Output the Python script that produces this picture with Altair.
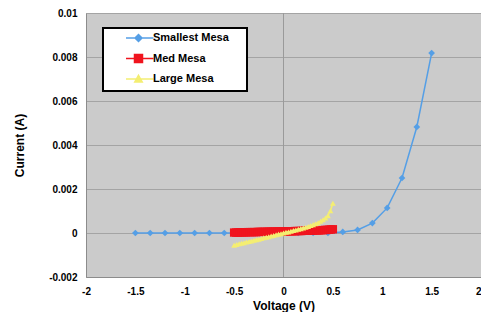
import altair as alt
import pandas as pd

# ---- data ----
small_v = [-1.5, -1.35, -1.2, -1.05, -0.9, -0.75, -0.6, -0.45, -0.3, -0.15, 0.0,
           0.15, 0.3, 0.45, 0.6, 0.75, 0.9, 1.05, 1.2, 1.35, 1.5]
small_i = [0, 0, 0, 0, 0, 0, 0, 0, 0, 0, 0,
           0, 0, 0, 0.00005, 0.00014, 0.00045, 0.00114, 0.0025, 0.00482, 0.00818]

med_v = [-0.5, -0.48, -0.46, -0.44, -0.42, -0.4, -0.38, -0.36, -0.34, -0.32, -0.3,
         -0.28, -0.26, -0.24, -0.22, -0.2, -0.18, -0.16, -0.14, -0.12, -0.1,
         -0.08, -0.06, -0.04, -0.02, 0.0, 0.02, 0.04, 0.06, 0.08, 0.1, 0.12,
         0.14, 0.16, 0.18, 0.2, 0.22, 0.24, 0.26, 0.28, 0.3, 0.32, 0.34, 0.36,
         0.38, 0.4, 0.42, 0.44, 0.46, 0.48, 0.5]
med_i = [0.00002, 0.00002, 0.00002, 0.00003, 0.00003, 0.00003, 0.00003,
         0.00004, 0.00004, 0.00004, 0.00004, 0.00004, 0.00005, 0.00005,
         0.00005, 0.00005, 0.00005, 0.00006, 0.00006, 0.00006, 0.00006,
         0.00006, 0.00007, 0.00007, 0.00007,
         0.00007, 0.00007, 0.00008, 0.00008, 0.00008, 0.00008, 0.00009,
         0.00009, 0.00009, 0.00009, 0.0001, 0.0001, 0.0001, 0.00011, 0.00011,
         0.00011, 0.00012, 0.00012, 0.00012, 0.00013, 0.00013, 0.00014,
         0.00014, 0.00015, 0.00016, 0.00017]

large_v = [-0.5, -0.475, -0.45, -0.425, -0.4, -0.375, -0.35, -0.325, -0.3, -0.275,
           -0.25, -0.225, -0.2, -0.175, -0.15, -0.125, -0.1, -0.075, -0.05, -0.025,
           0.0, 0.025, 0.05, 0.075, 0.1, 0.125, 0.15, 0.175, 0.2, 0.225, 0.25,
           0.275, 0.3, 0.325, 0.35, 0.375, 0.4, 0.425, 0.45, 0.475, 0.5]
large_i = [-0.00055, -0.00052, -0.00049, -0.00047, -0.00044, -0.00041, -0.00039,
           -0.00036, -0.00033, -0.0003, -0.00028, -0.00025, -0.00022, -0.00019,
           -0.00017, -0.00014, -0.00011, -0.00008, -0.00005, -0.00003,
           0.0, 0.00003, 0.00005, 0.00008, 0.00011, 0.00014, 0.00017, 0.0002,
           0.00023, 0.00026, 0.0003, 0.00034, 0.00038, 0.00042, 0.00047, 0.00053,
           0.0006, 0.00068, 0.00079, 0.00101, 0.00135]

series = ["Smallest Mesa", "Med Mesa", "Large Mesa"]
colors = ["#559fe6", "#f0141e", "#f4ee72"]
x_ticks = [-2, -1.5, -1, -0.5, 0, 0.5, 1, 1.5, 2]
y_ticks = [-0.002, 0, 0.002, 0.004, 0.006, 0.008, 0.01]

df_s = pd.DataFrame({"V": small_v, "I": small_i, "S": series[0]})
df_m = pd.DataFrame({"V": med_v, "I": med_i, "S": series[1]})
df_l = pd.DataFrame({"V": large_v, "I": large_i, "S": series[2]})

FONT = "Liberation Sans"

xs = alt.Scale(domain=[-2, 2], nice=False, zero=False)
ys = alt.Scale(domain=[-0.002, 0.01], nice=False, zero=False)

x_enc = alt.X("V:Q", scale=xs, axis=alt.Axis(
    title="Voltage (V)", values=x_ticks, labelExpr="toString(datum.value)",
    labelAlign={"condition": {"test": "datum.value == 2", "value": "right"},
                "value": "center"},
    grid=False, ticks=False, domainColor="#8c8c8c", labelPadding=9,
    labelFont=FONT, labelFontSize=10, labelFontWeight="bold", labelColor="black",
    titleFont=FONT, titleFontSize=12, titleFontWeight="bold", titleColor="black",
    titlePadding=4, labelFlush=False))
y_enc = alt.Y("I:Q", scale=ys, axis=alt.Axis(
    title="Current (A)", values=y_ticks, labelExpr="toString(datum.value)",
    grid=True, gridColor="#a4a4a4", ticks=False, domainColor="#8c8c8c", labelPadding=9,
    labelFont=FONT, labelFontSize=10, labelFontWeight="bold", labelColor="black",
    titleFont=FONT, titleFontSize=12, titleFontWeight="bold", titleColor="black",
    titlePadding=22, labelFlush=False))

zero_rule = alt.Chart(pd.DataFrame({"V": [0]})).mark_rule(
    color="#9a9a9a", strokeWidth=1).encode(x=alt.X("V:Q", scale=xs))


def layer(df, color, shape, size, sw):
    base = alt.Chart(df).encode(x=x_enc, y=y_enc)
    line = base.mark_line(color=color, strokeWidth=sw)
    pts = base.mark_point(filled=True, opacity=1, color=color, shape=shape, size=size)
    return line + pts


l_s = layer(df_s, colors[0], "diamond", 45, 1.5)
l_m = layer(df_m, colors[1], "square", 70, 1.6)
l_l = layer(df_l, colors[2], "triangle-up", 34, 1.6)

# legend frame (decoration, in pixels of the plot area)
legend_box = alt.Chart(pd.DataFrame({"k": [0]})).mark_rect(
    fill="white", stroke="black", strokeWidth=2).encode(
    x=alt.value(17), x2=alt.value(161), y=alt.value(15), y2=alt.value(78))

paths = [
    "M-4,0L1.5,0M-2.2,0L-1.5,-0.7L-0.8,0L-1.5,0.7Z",
    "M-4,0L1.5,0M-2.3,-0.8H-0.7V0.8H-2.3Z",
    "M-4,0L1.5,0M-1.5,-0.75L-0.75,0.6L-2.25,0.6Z",
]

legend = alt.Chart(df_s).transform_filter("false").mark_point(
    filled=True, opacity=1, size=100).encode(
    x=alt.X("V:Q", scale=xs), y=alt.Y("I:Q", scale=ys),
    color=alt.Color("S:N", scale=alt.Scale(domain=series, range=colors),
                    legend=alt.Legend(title=None)),
    stroke=alt.Stroke("S:N", scale=alt.Scale(domain=series, range=colors),
                      legend=alt.Legend(title=None)),
    shape=alt.Shape("S:N", scale=alt.Scale(domain=series, range=paths),
                    legend=alt.Legend(title=None)),
)

chart = alt.layer(zero_rule, l_s, l_m, l_l, legend_box, legend).properties(
    width=395, height=264,
    padding={"left": 78, "top": 5, "right": 0, "bottom": 35},
    autosize=alt.AutoSizeParams(type="none"),
    background="white",
).configure_view(
    fill="#cbcbcb", stroke="#a0a0a0", strokeWidth=1
).configure_legend(
    orient="none", legendX=17, legendY=15,
    padding=4,
    labelFont=FONT, labelFontSize=11, labelFontWeight="bold", labelColor="black",
    symbolStrokeWidth=1.5, rowPadding=6.5, labelOffset=1, symbolOffset=33,
    labelLimit=250,
)

chart.save("out.html", embed_options={"renderer": "svg", "actions": False})
